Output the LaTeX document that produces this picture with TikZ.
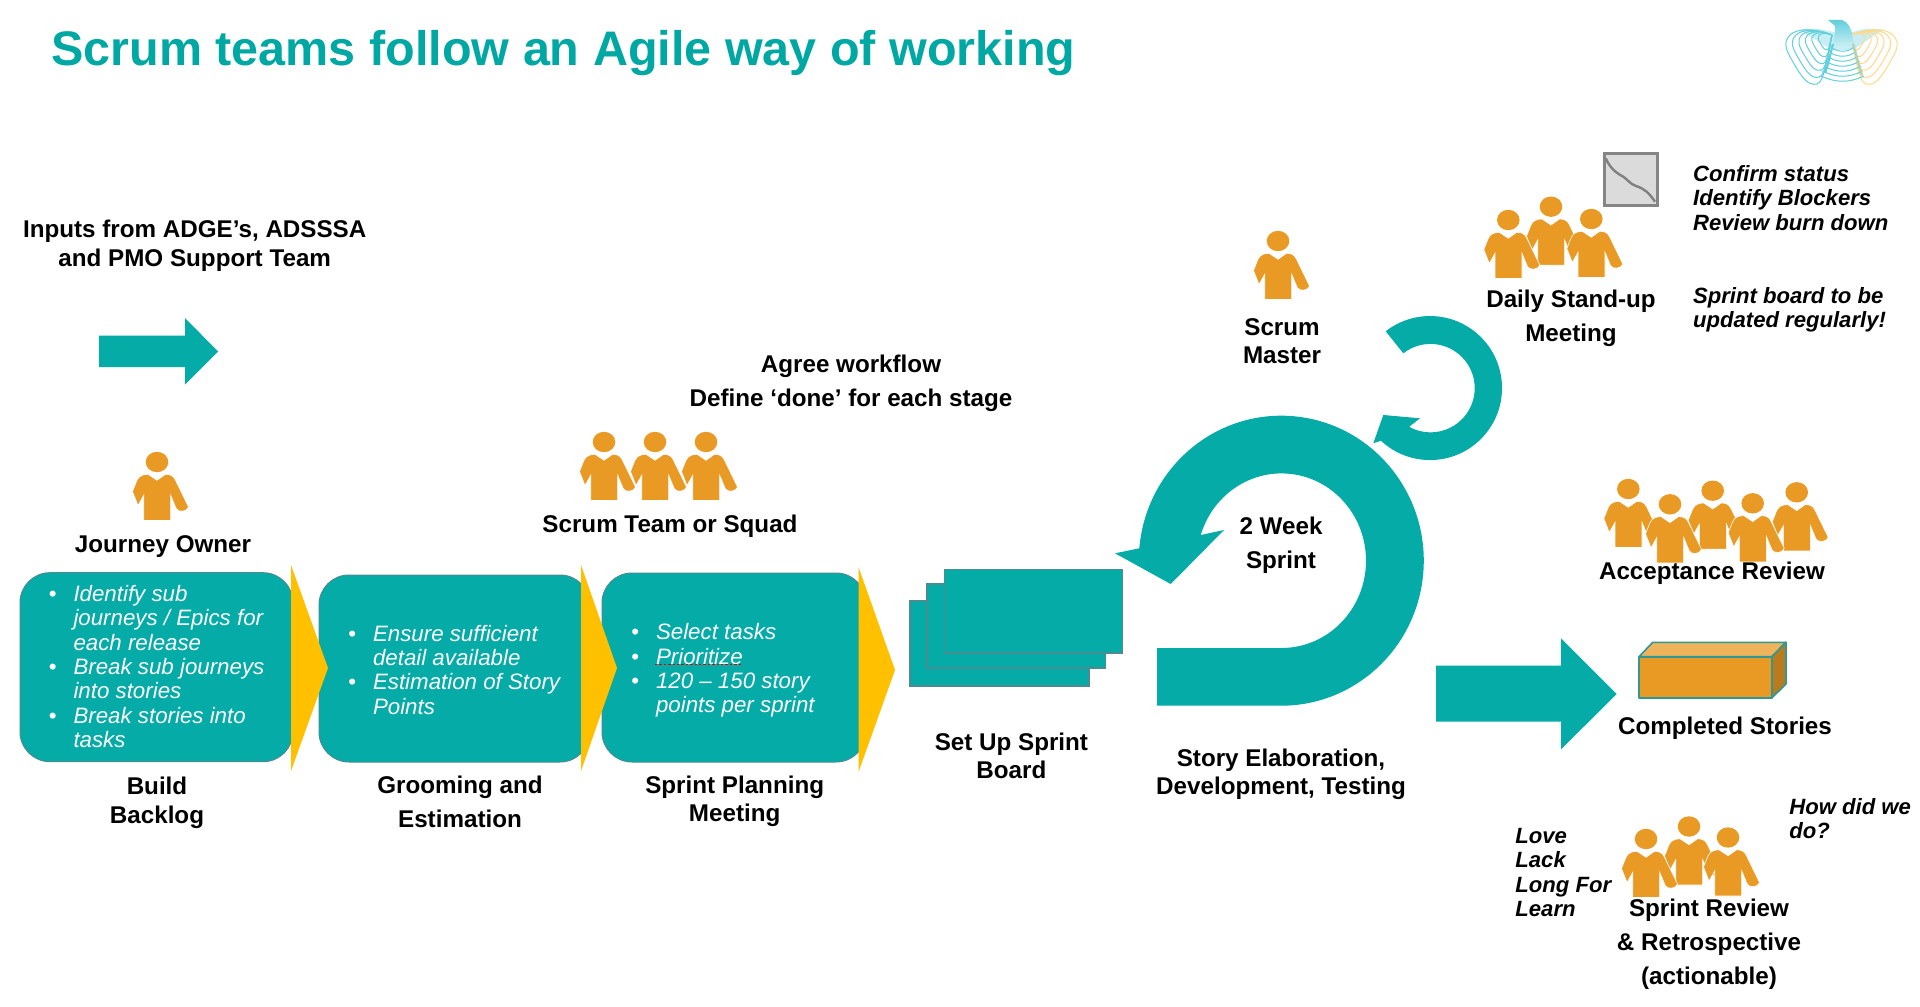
\documentclass[tikz,border=0pt]{standalone}
\usepackage{fontspec}
\setmainfont{Liberation Sans}
\definecolor{teal0}{HTML}{04ABA7}
\definecolor{titleteal}{HTML}{00A8A3}
\definecolor{edgeteal}{HTML}{4A8C90}
\definecolor{gold0}{HTML}{FFC000}
\definecolor{orange0}{HTML}{E89A24}
\definecolor{logoC}{HTML}{62CFDC}
\definecolor{logoY}{HTML}{FFD98A}
\newcommand{\bul}{\makebox[12.3pt][l]{\upshape\textbullet}}
\newcommand{\ind}{\hspace*{12.3pt}}
\tikzset{
  lbl/.style={font=\fontsize{12.1}{#1}\selectfont\bfseries,align=center,inner sep=0pt,text=black},
  boxtext/.style={font=\fontsize{11.15}{12.15}\selectfont\itshape,align=left,inner sep=0pt,text=white,anchor=west},
  sidetext/.style={font=\fontsize{11.05}{12.2}\selectfont\bfseries\itshape,align=left,inner sep=0pt,text=black,anchor=west},
  stepcard/.style={fill=teal0,draw=edgeteal,line width=0.5pt,rounded corners=15pt},
  chevronshape/.style={fill=gold0,draw=none},
  boardcard/.style={fill=teal0,draw=edgeteal,line width=0.6pt},
  bigshape/.style={fill=teal0,draw=none},
  wingline/.style={draw=#1,line width=0.5pt,fill=none},
  person/.pic={
    \fill[orange0] (0,0) ellipse [x radius=11.3,y radius=10.2];
    \path[fill=orange0,draw=white,line width=0.3pt] (0,18.3) -- (-9,12.3) .. controls (-13,12.3) and (-18,13.5) .. (-20,18.3) -- (-24.5,29.5) -- (-19,43.5) -- (-13.3,33.3) -- (-13.3,58.5) -- (13.7,58.5) -- (13.7,33.3) -- (19.3,46.7) .. controls (21.5,50.5) and (30,50) .. (31.5,45) -- (18.5,18.3) .. controls (16.5,13.5) and (13,12.3) .. (8.5,12.3) -- cycle;
  }
}
\begin{document}
\begin{tikzpicture}[x=0.5pt,y=-0.5pt]
\useasboundingbox (0,0) rectangle (1920,1006);
\fill[white] (0,0) rectangle (1920,1006);

% title
\node[font=\fontsize{24.25}{28}\selectfont\bfseries,text=titleteal,anchor=west,inner sep=0pt] (title) at (51,53) {Scrum teams follow an Agile way of working};

% logo
\begin{scope}
  \fill[logoC!35] (1800,30) .. controls (1815,27) and (1825,30) .. (1833,32) -- (1853,32) .. controls (1860,30) and (1870,27) .. (1882,30) -- (1853,50) -- (1832,50) -- cycle;
  \foreach \s in {1,0.86,0.72,0.58,0.44,0.3} {
    \begin{scope}[shift={(1832,35)},scale=\s,shift={(-1832,-35)}]
      \draw[wingline=logoC] (1832,35) .. controls (1815,28) and (1797,28) .. (1790,35) .. controls (1782,43) and (1787,52) .. (1793,62) .. controls (1802,78) and (1808,86) .. (1817,84) .. controls (1825,82) and (1828,50) .. (1832,35);
    \end{scope}
    \begin{scope}[shift={(1851,35)},scale=\s,shift={(-1851,-35)}]
      \draw[wingline=logoY] (1851,35) .. controls (1868,28) and (1886,28) .. (1893,35) .. controls (1901,43) and (1896,52) .. (1890,62) .. controls (1881,78) and (1875,86) .. (1866,84) .. controls (1858,82) and (1855,50) .. (1851,35);
    \end{scope}
  }
  \foreach \d in {0,5,10,15,20,25,30} {
    \draw[wingline=logoC] ({1830-0.3*\d},{46+\d}) .. controls (1836,{53+\d}) and (1849,{53+\d}) .. ({1855+0.3*\d},{46+\d});
  }
  \shade[top color=logoC,bottom color=logoC!30] (1828,20) -- (1842,20) .. controls (1848,22) and (1851,28) .. (1852,34) -- (1854,46) .. controls (1846,48) and (1840,48) .. (1832,46) .. controls (1834,38) and (1836,30) .. (1835,26) -- cycle;
  \draw[logoC,line width=1.1pt] (1833,44) .. controls (1830,55) and (1828,65) .. (1825,73);
  \draw[logoC!50!logoY,line width=1.1pt] (1853,44) .. controls (1856,55) and (1859,65) .. (1862,75);
\end{scope}

% inputs block
\node[lbl=14.5] (inputs) at (194.7,246.2) {Inputs from ADGE’s, ADSSSA\\and PMO Support Team};
\fill[bigshape] (99,335.5) -- (185,335.5) -- (185,318) -- (218,351.5) -- (185,384.5) -- (185,367) -- (99,367) -- cycle;

% people
\pic at (157,462) {person};
\node[lbl=14.5] (jo) at (163,546.7) {Journey Owner};
\pic at (604,442) {person};
\pic at (655,442) {person};
\pic at (706,442) {person};
\node[lbl=14.5] (team) at (670,526.5) {Scrum Team or Squad};
\node[lbl=17] (agree) at (851,383.5) {Agree workflow\\Define ‘done’ for each stage};

% step cards and chevrons
\draw[stepcard] (20,572.7) rectangle (293,761.7);
\draw[stepcard] (319,575) rectangle (590,762);
\draw[stepcard] (602,573) rectangle (866,762);
\fill[white] (858.5,560) rectangle (880,775);
\fill[chevronshape] (291,565) -- (328,668) -- (291,771) -- cycle;
\fill[chevronshape] (581,565) -- (617,668) -- (581,771) -- cycle;
\fill[chevronshape] (858.5,567) -- (895,670) -- (858.5,772) -- cycle;

\node[boxtext] (t1) at (48.5,666.5) {\bul Identify sub\\\ind journeys / Epics for\\\ind each release\\\bul Break sub journeys\\\ind into stories\\\bul Break stories into\\\ind tasks};
\node[boxtext] (t2) at (348,669.7) {\bul Ensure sufficient\\\ind detail available\\\bul Estimation of Story\\\ind Points};
\node[boxtext] (t3) at (631,670.5) {\bul Select tasks\\\bul Prioritize\\\bul 120 – 150 story\\\ind points per sprint};
\draw[red!90!black,line width=0.9pt,dash pattern=on 1.2pt off 1pt] (655,664.5) -- (742,664.5);

\node[lbl=14.5] (b1) at (157,802.7) {Build\\Backlog};
\node[lbl=17] (b2) at (460,802) {Grooming and\\Estimation};
\node[lbl=14] (b3) at (734.7,801.5) {Sprint Planning\\Meeting};

% sprint board
\draw[boardcard] (910,601) rectangle (1089,686);
\draw[boardcard] (927,584) rectangle (1105.5,668);
\draw[boardcard] (944.5,569.5) rectangle (1122.6,653);
\node[lbl=14] (board) at (1011.4,756.2) {Set Up Sprint\\Board};

% big sprint arrow
\fill[bigshape] (1157,648) -- (1281.5,648) arc[start angle=90,end angle=-162.9,x radius=84.5,y radius=87.3] -- (1224,530) -- (1170.7,584) -- (1115,553.3) -- (1139.3,548.3) arc[start angle=-175.1,end angle=90,x radius=142.5,y radius=145] -- (1157,705.7) -- cycle;
\node[lbl=17] (week) at (1281,545) {2 Week\\Sprint};
\node[lbl=14] (story) at (1281,774.5) {Story Elaboration,\\Development, Testing};

% small daily arrow
\fill[bigshape] (1385.7,331.3) -- (1403.3,353.3) arc[start angle=-128,end angle=119,radius=44.2] -- (1420,418.3) -- (1383.3,415) -- (1373.3,443.3) -- (1380.9,440.7) arc[start angle=133,end angle=-128,radius=72] -- cycle;

% scrum master
\pic at (1278,241) {person};
\node[lbl=14] (master) at (1282,341) {Scrum\\Master};

% daily stand-up
\pic at (1551,206.7) {person};
\pic at (1508.3,220) {person};
\pic at (1591.3,219) {person};
\node[lbl=17] (daily) at (1571,318.5) {Daily Stand-up\\Meeting};
\fill[black!14,draw=black!48,line width=1.6pt] (1604.5,153.5) rectangle (1657.5,205.5);
\draw[black!50,line width=1.2pt] (1605.7,158.3) .. controls (1610,168) and (1616,173) .. (1623.3,176.7) .. controls (1628,180) and (1630,184) .. (1636,186) .. controls (1645,189) and (1649,193) .. (1655,201.7);
\node[sidetext] (conf) at (1692.7,198) {Confirm status\\Identify Blockers\\Review burn down};
\node[sidetext] (upd) at (1692.7,310) {Sprint board to be\\updated regularly!};

% acceptance review
\pic at (1628.3,489) {person};
\pic at (1712.7,490.7) {person};
\pic at (1796.7,492.3) {person};
\pic at (1670,504.3) {person};
\pic at (1752.7,503.3) {person};
\node[lbl=14.5] (acc) at (1712,573.1) {Acceptance Review};

% completed stories
\fill[bigshape] (1436,665.7) -- (1561,665.7) -- (1561,638.3) -- (1616.7,694) -- (1561,749.3) -- (1561,721.7) -- (1436,721.7) -- cycle;
\begin{scope}[draw=edgeteal!60!teal0,line width=0.8pt,line join=round]
  \path[fill=orange0!75!white,draw] (1639,656.7) -- (1652.7,642.3) -- (1786,642.3) -- (1771.7,656.7) -- cycle;
  \path[fill=orange0!80!black,draw] (1771.7,656.7) -- (1786,642.3) -- (1786,684) -- (1771.7,698) -- cycle;
  \path[fill=orange0,draw] (1639,656.7) rectangle (1771.7,698);
\end{scope}
\node[lbl=14.5] (done) at (1725,728.5) {Completed Stories};

% retrospective
\pic at (1689,826.5) {person};
\pic at (1646,839) {person};
\pic at (1728,837.5) {person};
\node[lbl=17] (retro) at (1709,944.5) {Sprint Review\\\& Retrospective\\(actionable)};
\node[sidetext] (love) at (1515,872.5) {Love\\Lack\\Long For\\Learn};
\node[sidetext] (how) at (1789,818.5) {How did we\\do?};
\end{tikzpicture}
\end{document}
